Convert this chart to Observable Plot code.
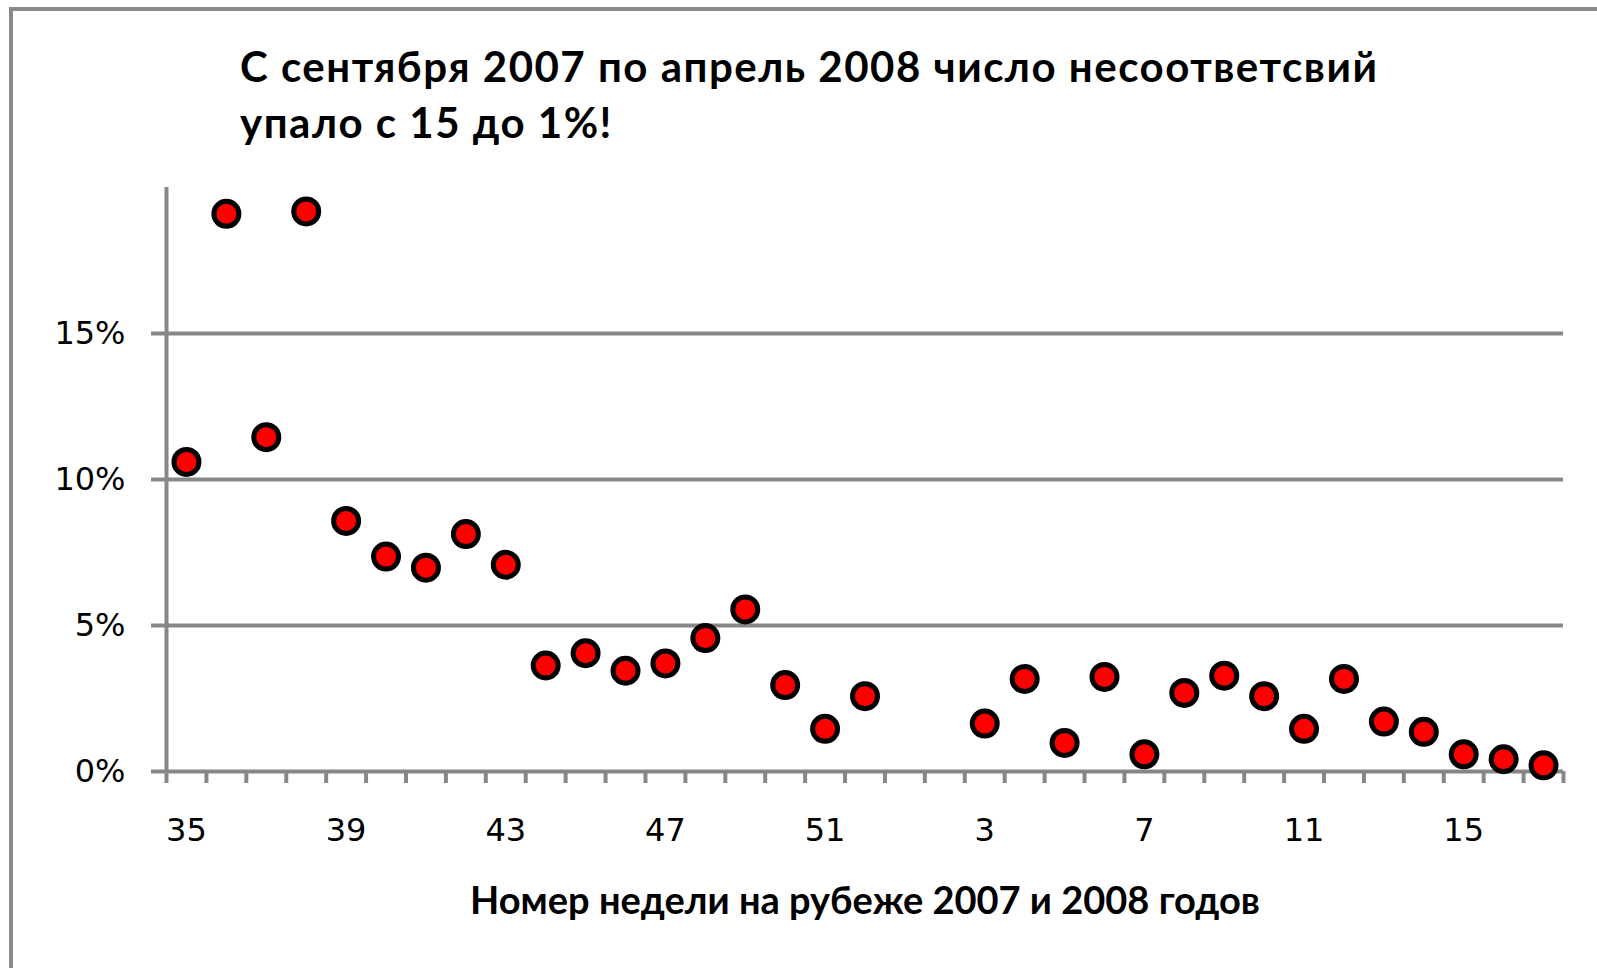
<!DOCTYPE html>
<html><head><meta charset="utf-8">
<script src="https://cdn.jsdelivr.net/npm/d3@7"></script>
<script src="https://cdn.jsdelivr.net/npm/@observablehq/plot@0.6"></script>
<style>
html,body{margin:0;padding:0;background:#fff;}
body{width:1597px;height:968px;overflow:hidden;position:relative;font-family:Lato,"Noto Sans",sans-serif;}
#frame{position:absolute;left:9px;top:7px;width:1700px;height:1100px;border-left:4px solid #8a8a8a;border-top:4px solid #8a8a8a;}
#title{position:absolute;left:240px;top:38px;font-weight:bold;font-size:42px;letter-spacing:1.5px;line-height:56px;color:#000;white-space:nowrap;}
#chart{position:absolute;left:0;top:0;}
</style>
</head><body>
<div id="frame"></div>
<div id="chart"></div>
<div id="title">С сентября 2007 по апрель 2008 число несоответсвий<br>упало с 15 до 1%!</div>
<script>
const weeks = ["35","36","37","38","39","40","41","42","43","44","45","46","47","48","49","50","51","52",
  "1","2","3","4","5","6","7","8","9","10","11","12","13","14","15","16","17"];
const shares = [10.6,19.1,11.45,19.18,8.58,7.36,6.98,8.13,7.08,3.63,4.05,3.45,3.7,4.57,5.55,2.96,1.46,2.58,
  null,null,1.64,3.17,0.98,3.24,0.59,2.69,3.28,2.58,1.46,3.17,1.71,1.36,0.59,0.42,0.21];
const yTicks = [0,5,10,15];
const labelWeeks = ["35","39","43","47","51","3","7","11","15"];
const xTitle = "Номер недели на рубеже 2007 и 2008 годов";

const data = weeks.map((w,i)=>({i, week:w, value:shares[i]})).filter(d=>d.value!=null);
const boundaries = d3.range(weeks.length+1).map(i=>i-0.5);
const labelIdx = labelWeeks.map(w=>weeks.indexOf(w));
const gray = "#878787";

const chart = Plot.plot({
  width:1597, height:968,
  marginLeft:166, marginRight:34, marginTop:187, marginBottom:197,
  x:{domain:[-0.5, weeks.length-0.5]},
  y:{domain:[0,20]},
  style:{fontFamily:"'DejaVu Sans', sans-serif", background:"transparent", color:"#000"},
  marks:[
    Plot.ruleY(yTicks, {stroke:gray, strokeWidth:4, insetLeft:-15}),
    Plot.ruleX([-0.5], {stroke:gray, strokeWidth:4}),
    Plot.axisX({ticks:boundaries, tickSize:12, tickFormat:()=>"", stroke:gray, strokeWidth:4, label:null}),
    Plot.axisX({ticks:labelIdx, tickSize:0, tickPadding:47, tickFormat:i=>weeks[i], fontSize:32, label:null}),
    Plot.axisY({ticks:yTicks, tickSize:0, tickPadding:41, tickFormat:d=>d+"%", fontSize:32, label:null}),
    Plot.dot(data, {x:"i", y:"value", r:12.5, fill:"#ff0000", stroke:"#000", strokeWidth:5}),
    Plot.text([xTitle], {frameAnchor:"bottom", dy:142, fontWeight:"bold", fontSize:38, fontFamily:"Lato, sans-serif", fill:"#000"})
  ]
});
document.getElementById("chart").appendChild(chart);
</script>
</body></html>
